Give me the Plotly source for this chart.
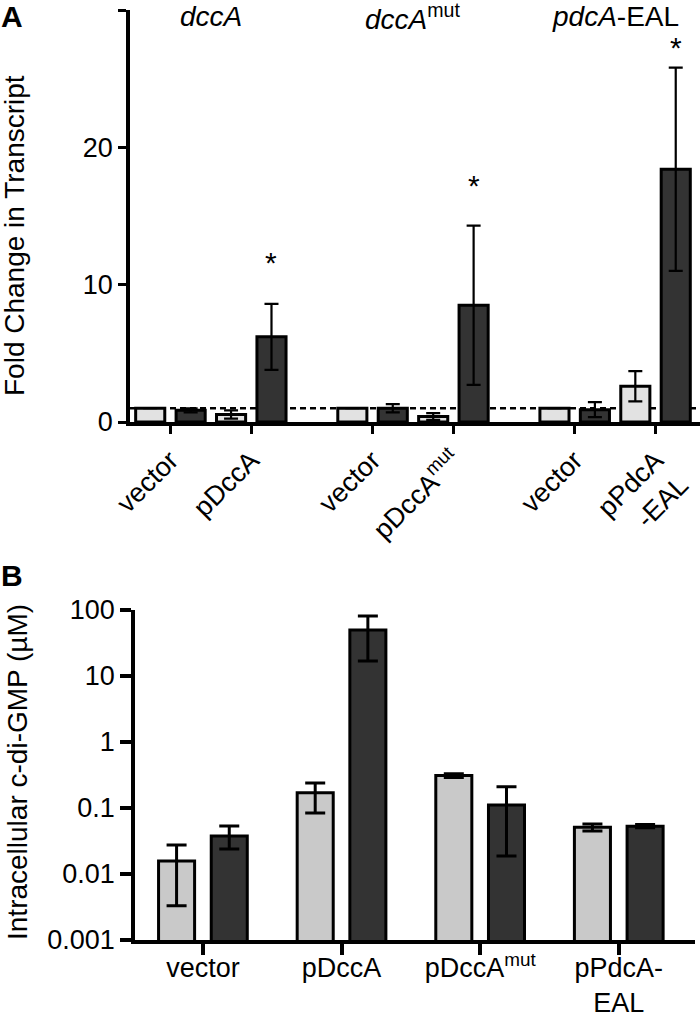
import plotly.graph_objects as go

# ---------------- Panel A data ----------------
a_group_titles = ["<i>dccA</i>", "<i>dccA</i><sup>mut</sup>", "<i>pdcA</i>-EAL"]
a_labels = ["vector", "pDccA", "vector", "pDccA<sup>mut</sup>", "vector", "pPdcA<br>-EAL"]
a_light = [1.0, 0.55, 1.0, 0.4, 1.0, 2.6]
a_light_err = [0.0, 0.3, 0.0, 0.25, 0.0, 1.1]
a_dark = [0.85, 6.2, 1.0, 8.5, 0.9, 18.4]
a_dark_err = [0.15, 2.4, 0.3, 5.8, 0.55, 7.4]
a_star = [None, 11.6, None, 17.2, None, 27.3]

# ---------------- Panel B data ----------------
b_labels = ["vector", "pDccA", "pDccA<sup>mut</sup>", "pPdcA-<br>EAL"]
b_light = [0.0157, 0.17, 0.31, 0.051]
b_light_hi = [0.0275, 0.24, 0.33, 0.057]
b_light_lo = [0.0033, 0.084, 0.29, 0.045]
b_dark = [0.0377, 49.8, 0.111, 0.053]
b_dark_hi = [0.0535, 81.0, 0.21, 0.056]
b_dark_lo = [0.024, 16.9, 0.0187, 0.050]
b_star = [None, 2.14, None, None]  # log10 position of asterisk

LIGHT_A = "#e2e2e2"
LIGHT_B = "#c9c9c9"
DARK = "#333333"
FONT = "Liberation Sans, Arial, sans-serif"

W, H = 700, 1014

# layout positions: groups of two pairs
a_pos = [5 * g + 2 * p for g in range(3) for p in range(2)]
a_group_centers = [5 * g + 1 for g in range(3)]

fig = go.Figure()

bw_a = 0.72
fig.add_trace(go.Bar(
    x=a_pos, y=a_light, width=bw_a, offset=-0.5 - bw_a / 2,
    marker=dict(color=LIGHT_A, line=dict(color="black", width=3)),
    error_y=dict(type="data", array=a_light_err, visible=True, color="black", thickness=2.2, width=7),
    xaxis="x", yaxis="y", showlegend=False))
fig.add_trace(go.Bar(
    x=a_pos, y=a_dark, width=bw_a, offset=0.5 - bw_a / 2,
    marker=dict(color=DARK, line=dict(color="black", width=3)),
    error_y=dict(type="data", array=a_dark_err, visible=True, color="black", thickness=2.2, width=7),
    xaxis="x", yaxis="y", showlegend=False))

bw_b = 0.26
b_idx = list(range(len(b_labels)))
fig.add_trace(go.Bar(
    x=b_idx, y=b_light, width=bw_b, offset=-0.19 - bw_b / 2,
    marker=dict(color=LIGHT_B, line=dict(color="black", width=3)),
    error_y=dict(type="data", symmetric=False,
                 array=[h - v for h, v in zip(b_light_hi, b_light)],
                 arrayminus=[v - l for v, l in zip(b_light, b_light_lo)],
                 visible=True, color="black", thickness=3, width=10),
    xaxis="x2", yaxis="y2", showlegend=False))
fig.add_trace(go.Bar(
    x=b_idx, y=b_dark, width=bw_b, offset=0.19 - bw_b / 2,
    marker=dict(color=DARK, line=dict(color="black", width=3)),
    error_y=dict(type="data", symmetric=False,
                 array=[h - v for h, v in zip(b_dark_hi, b_dark)],
                 arrayminus=[v - l for v, l in zip(b_dark, b_dark_lo)],
                 visible=True, color="black", thickness=3, width=10),
    xaxis="x2", yaxis="y2", showlegend=False))

annotations = []
for xc, t in zip(a_group_centers, a_group_titles):
    annotations.append(dict(x=xc, y=29.5, xref="x", yref="y", text=t, showarrow=False,
                            font=dict(size=28, family=FONT, color="black"), yanchor="middle"))
for p, s in zip(a_pos, a_star):
    if s is not None:
        annotations.append(dict(x=p + 0.5, y=s, xref="x", yref="y", text="*", showarrow=False,
                                font=dict(size=30, family=FONT, color="black"), yanchor="middle"))
for i, s in zip(b_idx, b_star):
    if s is not None:
        annotations.append(dict(x=i + 0.19, y=s, xref="x2", yref="y2", text="*", showarrow=False,
                                font=dict(size=30, family=FONT, color="black"), yanchor="middle"))

# axis titles and panel letters
annotations.append(dict(x=15 / W, y=1 - 236 / H, xref="paper", yref="paper", text="Fold Change in Transcript",
                        textangle=-90, showarrow=False, font=dict(size=28, family=FONT, color="black"),
                        xanchor="center", yanchor="middle"))
annotations.append(dict(x=17 / W, y=1 - 772 / H, xref="paper", yref="paper", text="Intracellular c-di-GMP (µM)",
                        textangle=-90, showarrow=False, font=dict(size=28, family=FONT, color="black"),
                        xanchor="center", yanchor="middle"))
annotations.append(dict(x=12 / W, y=1 - 17 / H, xref="paper", yref="paper", text="<b>A</b>",
                        showarrow=False, font=dict(size=30, family=FONT, color="black"),
                        xanchor="center", yanchor="middle"))
annotations.append(dict(x=12 / W, y=1 - 575 / H, xref="paper", yref="paper", text="<b>B</b>",
                        showarrow=False, font=dict(size=30, family=FONT, color="black"),
                        xanchor="center", yanchor="middle"))

axis_common = dict(showline=True, linecolor="black", linewidth=3.5, ticks="outside",
                   tickcolor="black", showgrid=False, zeroline=False, automargin=False,
                   tickfont=dict(size=27, family=FONT, color="black"))

fig.update_layout(
    width=W, height=H, margin=dict(l=0, r=0, t=0, b=0),
    plot_bgcolor="white", paper_bgcolor="white", barmode="overlay",
    font=dict(family=FONT, color="black"),
    xaxis=dict(domain=[130 / W, 1.0], range=[-1.0, 13.1], anchor="y",
               tickvals=a_pos, ticktext=a_labels, tickangle=-45, ticklen=8, tickwidth=3,
               **axis_common),
    yaxis=dict(domain=[1 - 422 / H, 1 - 10 / H], range=[0, 30], anchor="x",
               tickvals=[0, 10, 20, 30], ticklen=8, tickwidth=3, **axis_common),
    xaxis2=dict(domain=[135 / W, 695 / W], range=[-0.49, 3.55], anchor="y2",
                tickvals=b_idx, ticktext=b_labels, ticklen=11, tickwidth=3.5,
                ticklabelstandoff=-10, **axis_common),
    yaxis2=dict(domain=[1 - 940 / H, 1 - 610 / H], type="log", range=[-3, 2], anchor="x2",
                tickvals=[0.001, 0.01, 0.1, 1, 10, 100],
                ticktext=["0.001", "0.01", "0.1", "1", "10", "100"],
                ticklen=11, tickwidth=3.5, **axis_common),
    annotations=annotations,
    shapes=[dict(type="line", xref="x domain", yref="y", x0=0, x1=1, y0=1, y1=1,
                 line=dict(color="black", width=2.5, dash="6px,4px"), layer="below")],
)

fig.write_html("out.html", config={"displayModeBar": False},
               post_script="document.body.style.margin='0';document.body.style.overflow='hidden';")
